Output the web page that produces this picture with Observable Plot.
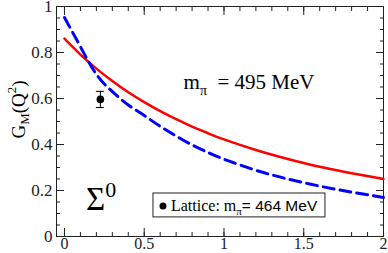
<!DOCTYPE html>
<html><head><meta charset="utf-8">
<script src="https://cdn.jsdelivr.net/npm/d3@7"></script>
<script src="https://cdn.jsdelivr.net/npm/@observablehq/plot@0.6"></script>
<style>body{margin:0;background:#fff} #chart svg{display:block}</style>
</head><body><div id="chart"></div>
<script>
// Q^2 sample points (GeV^2)
const q2 = [0, 0.1, 0.2, 0.3, 0.4, 0.5, 0.6, 0.7, 0.8, 0.9, 1.0, 1.2, 1.4, 1.6, 1.8, 2.0];
// solid red curve (m_pi = 495 MeV)
const gmSolid = [0.86, 0.791, 0.730, 0.676, 0.627, 0.584, 0.545, 0.510, 0.478, 0.449, 0.422, 0.376, 0.337, 0.303, 0.275, 0.25];
// dashed blue curve
const gmDashed = [0.952, 0.825, 0.705, 0.630, 0.572, 0.526, 0.479, 0.437, 0.398, 0.365, 0.336, 0.288, 0.250, 0.219, 0.193, 0.170];
// lattice point
const latticeQ2 = [0.225];
const latticeGM = [0.596];
const latticeErr = [0.035];
// ticks
const xTicks = [0, 0.5, 1, 1.5, 2];
const xTickLabels = ["0", "0.5", "1", "1.5", "2"];
const yTicks = [0, 0.2, 0.4, 0.6, 0.8, 1];
const yTickLabels = ["0", "0.2", "0.4", "0.6", "0.8", "1"];
const xMinor = d3.range(0, 20.5, 1).map(d => d / 10);
const yMinor = d3.range(0, 20.5, 1).map(d => d / 20);

const solid = q2.map((x, i) => ({x, y: gmSolid[i]}));
const dashed = q2.map((x, i) => ({x, y: gmDashed[i]}));
const lattice = latticeQ2.map((x, i) => ({x, y: latticeGM[i], lo: latticeGM[i] - latticeErr[i], hi: latticeGM[i] + latticeErr[i]}));

const ink = "#222";
const tickOnly = {tickFormat: () => "", label: null, stroke: ink};

const plot = Plot.plot({
  width: 388, height: 253,
  marginLeft: 56, marginRight: 5, marginTop: 6, marginBottom: 17,
  style: {fontFamily: "Liberation Serif, serif", fontSize: "16px", color: ink, background: "#fff", overflow: "visible"},
  x: {domain: [-0.05, 2]},
  y: {domain: [0, 1]},
  marks: [
    Plot.axisX(xMinor, {anchor: "bottom", tickSize: -4, ...tickOnly}),
    Plot.axisX(xTicks, {anchor: "bottom", tickSize: -8, ...tickOnly}),
    Plot.axisX(xMinor, {anchor: "top", tickSize: -4, ...tickOnly}),
    Plot.axisX(xTicks, {anchor: "top", tickSize: -8, ...tickOnly}),
    Plot.axisY(yMinor, {anchor: "left", tickSize: -4, ...tickOnly}),
    Plot.axisY(yTicks, {anchor: "left", tickSize: -8, ...tickOnly}),
    Plot.axisY(yMinor, {anchor: "right", tickSize: -4, ...tickOnly}),
    Plot.axisY(yTicks, {anchor: "right", tickSize: -8, ...tickOnly}),
    Plot.axisX(xTicks, {anchor: "bottom", tickSize: 0, tickPadding: 1.5, fontSize: 16, tickFormat: (d, i) => xTickLabels[i], label: null}),
    Plot.axisY(yTicks, {anchor: "left", tickSize: 0, tickPadding: 4, fontSize: 17, tickFormat: (d, i) => yTickLabels[i], label: null}),
    Plot.frame({stroke: ink}),
    Plot.line(solid, {x: "x", y: "y", stroke: "#ff0000", strokeWidth: 2.5, curve: "natural"}),
    Plot.line(dashed, {x: "x", y: "y", stroke: "#0000ff", strokeWidth: 3, strokeDasharray: "11,6", curve: "natural"}),
    Plot.ruleX(lattice, {x: "x", y1: "lo", y2: "hi", stroke: "#000", strokeWidth: 1}),
    Plot.ruleY(lattice, {x1: "x", x2: "x", y: "lo", insetLeft: -4, insetRight: -4, stroke: "#000"}),
    Plot.ruleY(lattice, {x1: "x", x2: "x", y: "hi", insetLeft: -4, insetRight: -4, stroke: "#000"}),
    Plot.dot(lattice, {x: "x", y: "y", r: 3.8, fill: "#000", stroke: "none"})
  ]
});

const svg = d3.select(plot);
const sx = plot.scale("x").apply, sy = plot.scale("y").apply;
const serif = "Liberation Serif, serif", sans = "Liberation Sans, Arial, sans-serif";

// y axis label G_M(Q^2)
const yl = svg.append("text")
  .attr("transform", `translate(25,${sy(0.55)}) rotate(-90)`)
  .attr("text-anchor", "middle").attr("font-family", serif).attr("font-size", 19).attr("fill", "#000");
yl.append("tspan").text("G");
yl.append("tspan").attr("font-size", 13).attr("dy", 4).text("M");
yl.append("tspan").attr("dy", -4).text("(Q");
yl.append("tspan").attr("font-size", 13).attr("dy", -9).text("2");
yl.append("tspan").attr("dy", 9).text(")");

// m_pi = 495 MeV
const mt = svg.append("text")
  .attr("x", sx(0.75)).attr("y", sy(0.639)).attr("text-anchor", "start")
  .attr("font-family", serif).attr("font-size", 21).attr("fill", "#000");
mt.append("tspan").text("m");
mt.append("tspan").attr("font-size", 14).attr("dy", 6).text("π");
mt.append("tspan").attr("dy", -6).text(" \u00a0= 495 MeV");

// Sigma^0
const sg = svg.append("text")
  .attr("x", sx(0.138)).attr("y", sy(0.113)).attr("text-anchor", "start")
  .attr("font-family", serif).attr("font-size", 33).attr("fill", "#000");
sg.append("tspan").text("Σ");
sg.append("tspan").attr("font-size", 22).attr("dy", -13).text("0");

// legend
const lx1 = sx(0.558), lx2 = sx(1.636), ly1 = sy(0.187), ly2 = sy(0.083);
svg.append("rect").attr("x", lx1).attr("y", ly1).attr("width", lx2 - lx1).attr("height", ly2 - ly1)
  .attr("fill", "#fff").attr("stroke", ink).attr("stroke-width", 1);
svg.append("circle").attr("cx", lx1 + 10).attr("cy", (ly1 + ly2) / 2 + 1).attr("r", 3.5).attr("fill", "#000");
const lt = svg.append("text").attr("x", lx1 + 18).attr("y", ly1 + 18).attr("text-anchor", "start")
  .attr("font-family", serif).attr("font-size", 16).attr("fill", "#000");
lt.append("tspan").text("Lattice: m");
lt.append("tspan").attr("font-size", 11).attr("dy", 4).text("π");
lt.append("tspan").attr("dy", -4).attr("font-family", sans).attr("font-size", 15.5).text("= 464 MeV");

document.getElementById("chart").appendChild(plot);
</script>
</body></html>
